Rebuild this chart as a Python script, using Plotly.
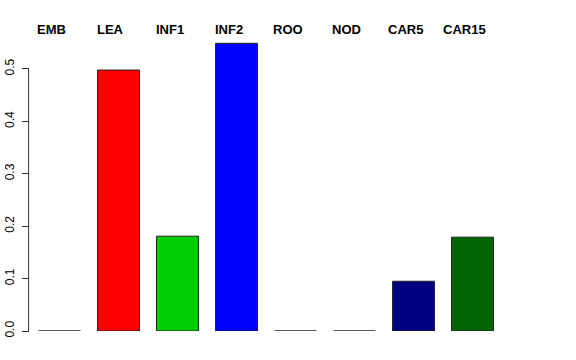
import plotly.graph_objects as go

categories = ["EMB", "LEA", "INF1", "INF2", "ROO", "NOD", "CAR5", "CAR15"]
values = [0.0, 0.498, 0.181, 0.549, 0.0, 0.0, 0.095, 0.179]
colors = ["#000000", "#FF0000", "#00CD00", "#0000FF", "#00BFFF", "#FF00FF", "#000080", "#006400"]
tick_vals = [0.0, 0.1, 0.2, 0.3, 0.4, 0.5]
tick_text = ["0.0", "0.1", "0.2", "0.3", "0.4", "0.5"]

fig = go.Figure()
fig.add_trace(go.Bar(
    x=categories, y=values,
    marker=dict(color=colors, line=dict(color="#222222", width=1)),
    width=0.71,
))

for c in categories:
    fig.add_annotation(x=c, y=1.005, xref="x", yref="paper", text="<b>%s</b>" % c,
                       showarrow=False, xshift=-8, yanchor="middle",
                       font=dict(family="Liberation Sans, Arial, sans-serif", size=13, color="black"))

# R-style axis line from 0 to max tick only
fig.add_shape(type="line", xref="paper", yref="y", x0=-0.003, x1=-0.003,
              y0=tick_vals[0], y1=tick_vals[-1], line=dict(color="#333333", width=1))

fig.update_layout(
    width=576, height=360,
    margin=dict(l=30, r=74, t=31, b=29, autoexpand=False),
    paper_bgcolor="white", plot_bgcolor="white",
    showlegend=False,
    xaxis=dict(range=[-0.5, 7.5], showticklabels=False, ticks="", showgrid=False,
               zeroline=False, showline=False, automargin=False),
    yaxis=dict(range=[0, 0.5725], tickvals=tick_vals, ticktext=tick_text,
               ticks="outside", ticklen=7, tickcolor="#333333", tickangle=-90,
               ticklabelstandoff=3,
               showgrid=False, zeroline=False, showline=False, automargin=False,
               tickfont=dict(family="Liberation Sans, Arial, sans-serif", size=12, color="black")),
)

fig.write_html("out.html", config={"displayModeBar": False},
               post_script="document.body.style.margin='0';document.body.style.overflow='hidden';")
